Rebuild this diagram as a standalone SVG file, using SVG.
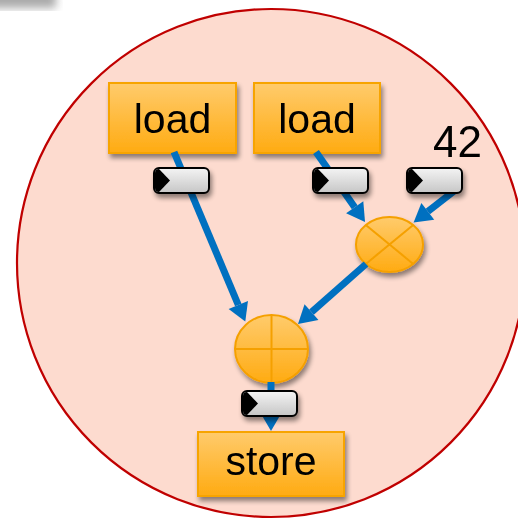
<svg xmlns="http://www.w3.org/2000/svg" width="518" height="519" viewBox="0 0 518 519">
<defs>
<linearGradient id="og" x1="0" y1="0" x2="0" y2="1"><stop offset="0" stop-color="#ffcb6c"/><stop offset="1" stop-color="#ffab12"/></linearGradient>
<linearGradient id="tg" x1="0" y1="0" x2="0" y2="1"><stop offset="0" stop-color="#f4f4f4"/><stop offset="1" stop-color="#c6c6c6"/></linearGradient>
<filter id="sh" x="-20%" y="-20%" width="150%" height="160%"><feGaussianBlur in="SourceAlpha" stdDeviation="2.5"/><feOffset dx="2" dy="4" result="b"/><feComponentTransfer><feFuncA type="linear" slope="0.45"/></feComponentTransfer><feMerge><feMergeNode/><feMergeNode in="SourceGraphic"/></feMerge></filter>
<filter id="blur"><feGaussianBlur stdDeviation="4"/></filter>
<marker id="ah" markerUnits="userSpaceOnUse" markerWidth="22" markerHeight="24" viewBox="0 -12 19 24" refX="0" refY="0" orient="auto"><path d="M0,-10.5 L18,0 L0,10.5 z" fill="#0070c0"/></marker>
<g id="tok"><rect x="0" y="0" width="55" height="25" rx="5" fill="url(#tg)" stroke="#000" stroke-width="2"/><path d="M5,1 Q1,1 1,5 L1,20 Q1,24 5,24 L16,12.5 Z" fill="#000"/></g>
</defs>
<style>
.box{fill:url(#og);stroke:#f7a400;stroke-width:2}
.op{fill:url(#og);stroke:#f5a000;stroke-width:2}
.opl{stroke:#f5a000;stroke-width:2;fill:none}
.lbl{font-family:"Liberation Sans",Arial,sans-serif;font-size:41px;fill:#000;text-anchor:middle}
.con{stroke:#0070c0;stroke-width:7;fill:none;marker-end:url(#ah)}
</style>
<rect x="-10" y="-20" width="66" height="28" fill="#aaa" filter="url(#blur)"/>
<g id="region"><circle cx="271" cy="263" r="254" fill="#fddbcf" stroke="#c00000" stroke-width="2.2"/></g>
<g id="load1" filter="url(#sh)"><rect class="box" x="109" y="83" width="127" height="70"/><text class="lbl" x="172.5" y="133">load</text></g>
<g id="load2" filter="url(#sh)"><rect class="box" x="254" y="83" width="126" height="70"/><text class="lbl" x="317" y="133">load</text></g>
<g id="store" filter="url(#sh)"><rect class="box" x="198" y="432" width="146" height="64"/><text class="lbl" x="271" y="475">store</text></g>
<g id="mul" filter="url(#sh)"><ellipse class="op" cx="389.5" cy="244.5" rx="33.5" ry="27.5"/><path class="opl" d="M365.8,225.1 L413.2,263.9 M413.2,225.1 L365.8,263.9"/></g>
<g id="add" filter="url(#sh)"><ellipse class="op" cx="271.5" cy="349" rx="36.5" ry="34"/><path class="opl" d="M271.5,315 L271.5,383 M235,349 L308,349"/></g>
<g id="connectors">
<path class="con" d="M174,152 L238.3,305"/>
<path class="con" d="M316,152 L354.7,207.3"/>
<path class="con" d="M458,188 L427.8,211.4"/>
<path class="con" d="M366,264 L311.5,312.1"/>
<path class="con" d="M271,382 L271,413"/>
</g>
<g id="tokens" filter="url(#sh)">
<use href="#tok" x="154" y="168"/>
<use href="#tok" x="313" y="168"/>
<use href="#tok" x="407" y="168"/>
<use href="#tok" x="242" y="391"/>
</g>
<g id="const"><text x="433" y="157" font-family="Liberation Sans, Arial, sans-serif" font-size="44" fill="#000">42</text></g>
</svg>
